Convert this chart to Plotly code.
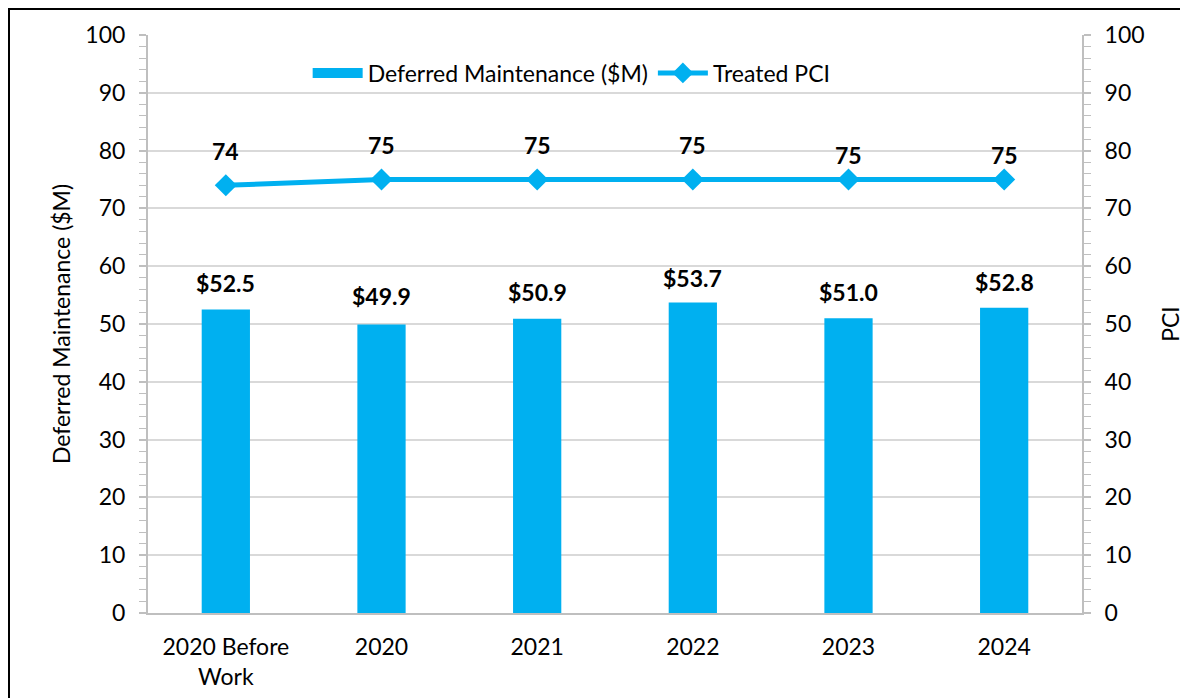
import plotly.graph_objects as go

categories = ["2020 Before<br>Work", "2020", "2021", "2022", "2023", "2024"]
deferred_maintenance = [52.5, 49.9, 50.9, 53.7, 51.0, 52.8]
treated_pci = [74, 75, 75, 75, 75, 75]
bar_labels = ["$52.5", "$49.9", "$50.9", "$53.7", "$51.0", "$52.8"]
pci_labels = ["74", "75", "75", "75", "75", "75"]

bar_label_shift = [27, 29, 27, 25, 26, 26]
pci_label_shift = [34, 35, 35, 35, 25, 25]

BLUE = "#00B0F0"
GRID = "#d9d9d9"
AXIS = "#bfbfbf"
FONT = "Lato, Open Sans, sans-serif"
FS = 23

fig = go.Figure()
fig.add_trace(go.Bar(
    x=categories, y=deferred_maintenance, name="Deferred Maintenance ($M)",
    marker=dict(color=BLUE, line=dict(width=0)), yaxis="y",
    legendgroup="dm", showlegend=False,
))
# legend entry drawn as a wide block, like the reference's swatch
fig.add_trace(go.Scatter(
    x=[None], y=[None], name="Deferred Maintenance ($M)", mode="lines",
    line=dict(color=BLUE, width=16), legendgroup="dm", showlegend=True, hoverinfo="skip",
))
fig.add_trace(go.Scatter(
    x=categories, y=treated_pci, name="Treated PCI", mode="lines+markers",
    line=dict(color=BLUE, width=5), marker=dict(symbol="diamond", size=17, color=BLUE),
    yaxis="y2",
))

annotations = []
# category axes place annotations by category index
for i, (v, t, s) in enumerate(zip(deferred_maintenance, bar_labels, bar_label_shift)):
    annotations.append(dict(x=i, y=v, xref="x", yref="y", text=f"<b>{t}</b>",
                            showarrow=False, yshift=s, font=dict(size=FS, color="black", family=FONT)))
for i, (v, t, s) in enumerate(zip(treated_pci, pci_labels, pci_label_shift)):
    annotations.append(dict(x=i, y=v, xref="x", yref="y2", text=f"<b>{t}</b>",
                            showarrow=False, yshift=s, font=dict(size=FS, color="black", family=FONT)))

W, H = 1188, 698
L, R, T, B = 140, 114, 27, 93
pw, ph = W - L - R, H - T - B

fig.update_layout(
    width=W, height=H,
    margin=dict(l=L, r=R, t=T, b=B, pad=0),
    paper_bgcolor="white", plot_bgcolor="white",
    font=dict(family=FONT, size=FS, color="black"),
    bargap=0.69,
    showlegend=True,
    legend=dict(orientation="h", x=0.4536, xanchor="center", y=(605 - 65) / ph, yanchor="middle",
                font=dict(size=FS, family=FONT), bgcolor="rgba(0,0,0,0)", traceorder="normal",
                itemwidth=50),
    xaxis=dict(type="category", categoryorder="array", categoryarray=categories,
               range=[-0.5, len(categories) - 0.5],
               showgrid=False, showline=True, linecolor=AXIS, linewidth=2, ticks="",
               tickfont=dict(size=FS), ticklabelstandoff=12, automargin=False),
    yaxis=dict(range=[0, 100], dtick=10, showgrid=True, gridcolor=GRID, gridwidth=2,
               showline=True, linecolor=AXIS, linewidth=2, ticks="outside", ticklen=7,
               tickcolor=AXIS, tickwidth=2, ticklabelstandoff=9,
               minor=dict(dtick=2, ticks="outside", ticklen=7, tickcolor=AXIS, tickwidth=1, showgrid=False),
               title=dict(text="Deferred Maintenance ($M)", font=dict(size=FS), standoff=8),
               tickfont=dict(size=FS), zeroline=False, automargin=False),
    yaxis2=dict(range=[0, 100], dtick=10, overlaying="y", side="right", showgrid=False,
                showline=True, linecolor=AXIS, linewidth=2, ticks="outside", ticklen=7,
                tickcolor=AXIS, tickwidth=2, ticklabelstandoff=9,
                minor=dict(dtick=2, ticks="outside", ticklen=7, tickcolor=AXIS, tickwidth=1),
                title=dict(text="PCI", font=dict(size=FS), standoff=19),
                tickfont=dict(size=FS), zeroline=False, automargin=False),
    annotations=annotations,
    shapes=[dict(type="rect", xref="paper", yref="paper",
                 x0=(1 - L) / pw, x1=(W + 20 - L) / pw,
                 y0=-(B + 20) / ph, y1=1 + (T - 1) / ph,
                 line=dict(color="black", width=2), fillcolor="rgba(0,0,0,0)", layer="below")],
)

fig.write_html("out.html")
